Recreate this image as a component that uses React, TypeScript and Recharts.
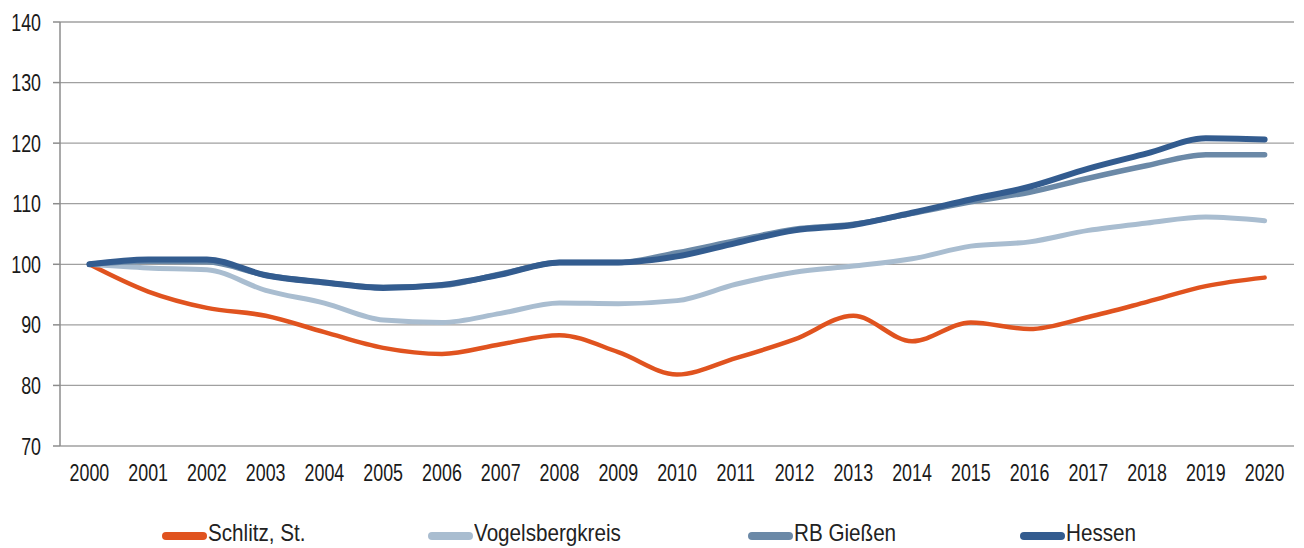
import React from 'react';
import { LineChart, Line, XAxis, YAxis, CartesianGrid, Legend } from 'recharts';

// index values, 2000 = 100
const years = [2000, 2001, 2002, 2003, 2004, 2005, 2006, 2007, 2008, 2009, 2010, 2011, 2012, 2013, 2014, 2015, 2016, 2017, 2018, 2019, 2020];
const schlitz = [100, 95.5, 92.8, 91.5, 88.8, 86.2, 85.2, 86.8, 88.3, 85.5, 81.8, 84.5, 87.6, 91.5, 87.3, 90.4, 89.3, 91.3, 93.8, 96.4, 97.8];
const vogelsberg = [100, 99.4, 99.1, 95.7, 93.6, 90.8, 90.4, 91.9, 93.6, 93.5, 94.0, 96.7, 98.7, 99.7, 100.9, 103.0, 103.7, 105.6, 106.8, 107.8, 107.2];
const rbGiessen = [100, 100.5, 100.4, 98.2, 97.0, 96.2, 96.5, 98.4, 100.3, 100.3, 101.9, 103.9, 105.8, 106.6, 108.4, 110.3, 111.9, 114.2, 116.3, 118.1, 118.1];
const hessen = [100, 100.8, 100.8, 98.2, 97.0, 96.1, 96.6, 98.3, 100.3, 100.3, 101.3, 103.5, 105.6, 106.5, 108.5, 110.7, 112.8, 115.8, 118.3, 120.8, 120.6];

const yTicks = [70, 80, 90, 100, 110, 120, 130, 140];

const series = [
  { key: 'schlitz', name: 'Schlitz, St.', color: '#e0531f', width: 4.5 },
  { key: 'vogelsberg', name: 'Vogelsbergkreis', color: '#a9bdd0', width: 5 },
  { key: 'rbGiessen', name: 'RB Gießen', color: '#6b89a7', width: 5.5 },
  { key: 'hessen', name: 'Hessen', color: '#335c8f', width: 6 },
];

const data = years.map((year, i) => ({
  year,
  schlitz: schlitz[i],
  vogelsberg: vogelsberg[i],
  rbGiessen: rbGiessen[i],
  hessen: hessen[i],
}));

// tick marks sit between the years
const bandEdges = [...years.map(y => y - 0.5), years[years.length - 1] + 0.5];

const legendX = [162, 428, 748, 1020];

// no Arial Narrow available, so squeeze Liberation Sans
const FONT = '"Liberation Sans", Arial, sans-serif';
const NARROW = 0.76;

const XTick = ({ x, y, payload }: any) => (
  <text
    transform={`translate(${x},${y}) scale(${NARROW},1)`}
    textAnchor="middle"
    dy={35}
    fontSize={23.5}
    fontFamily={FONT}
    fill="#1a1a1a"
  >
    {payload.value}
  </text>
);

const YTick = ({ x, y, payload }: any) => (
  <text
    transform={`translate(${x},${y}) scale(${NARROW},1)`}
    textAnchor="end"
    dy={8.5}
    fontSize={23.5}
    fontFamily={FONT}
    fill="#1a1a1a"
  >
    {payload.value}
  </text>
);

const ChartLegend = () => (
  <div style={{ position: 'relative', width: 1304, height: 26 }}>
    {series.map((s, i) => (
      <div
        key={s.key}
        style={{ position: 'absolute', left: legendX[i], top: 0, height: 26, display: 'flex', alignItems: 'center' }}
      >
        <span style={{ display: 'inline-block', width: 45, height: 8, borderRadius: 4, background: s.color, marginTop: 6 }} />
        <span
          style={{
            display: 'inline-block',
            fontFamily: FONT,
            fontSize: 24,
            lineHeight: '24px',
            color: '#222',
            marginLeft: 1,
            transform: 'scaleX(0.86)',
            transformOrigin: 'left center',
            whiteSpace: 'nowrap',
          }}
        >
          {s.name}
        </span>
      </div>
    ))}
  </div>
);

export default function App() {
  return (
    <div style={{ position: 'absolute', left: 0, top: 0, width: 1304, height: 548, background: '#fff', overflow: 'hidden' }}>
      <LineChart width={1304} height={548} data={data} margin={{ top: 22, right: 10, left: 0, bottom: 36 }}>
        <CartesianGrid vertical={false} stroke="#a0a0a0" strokeWidth={1.3} />
        <XAxis
          xAxisId="edges"
          dataKey="year"
          type="number"
          domain={[1999.5, 2020.5]}
          ticks={bandEdges}
          interval={0}
          tick={false}
          tickSize={7}
          height={0}
          stroke="#8c8c8c"
          strokeWidth={1.5}
        />
        <XAxis
          dataKey="year"
          type="number"
          domain={[1999.5, 2020.5]}
          ticks={years}
          interval={0}
          axisLine={false}
          tickLine={false}
          tickSize={0}
          tickMargin={0}
          height={40}
          tick={<XTick />}
        />
        <YAxis
          domain={[70, 140]}
          ticks={yTicks}
          interval={0}
          width={60}
          tickSize={7}
          tickMargin={12}
          stroke="#8c8c8c"
          strokeWidth={1.5}
          tick={<YTick />}
        />
        <Legend
          verticalAlign="bottom"
          content={() => <ChartLegend />}
          wrapperStyle={{ position: 'absolute', left: 0, top: 520, width: 1304, height: 26 }}
        />
        {series.map(s => (
          <Line
            key={s.key}
            type="monotone"
            dataKey={s.key}
            name={s.name}
            stroke={s.color}
            strokeWidth={s.width}
            strokeLinecap="round"
            strokeLinejoin="round"
            dot={false}
            activeDot={false}
            isAnimationActive={false}
          />
        ))}
      </LineChart>
    </div>
  );
}
